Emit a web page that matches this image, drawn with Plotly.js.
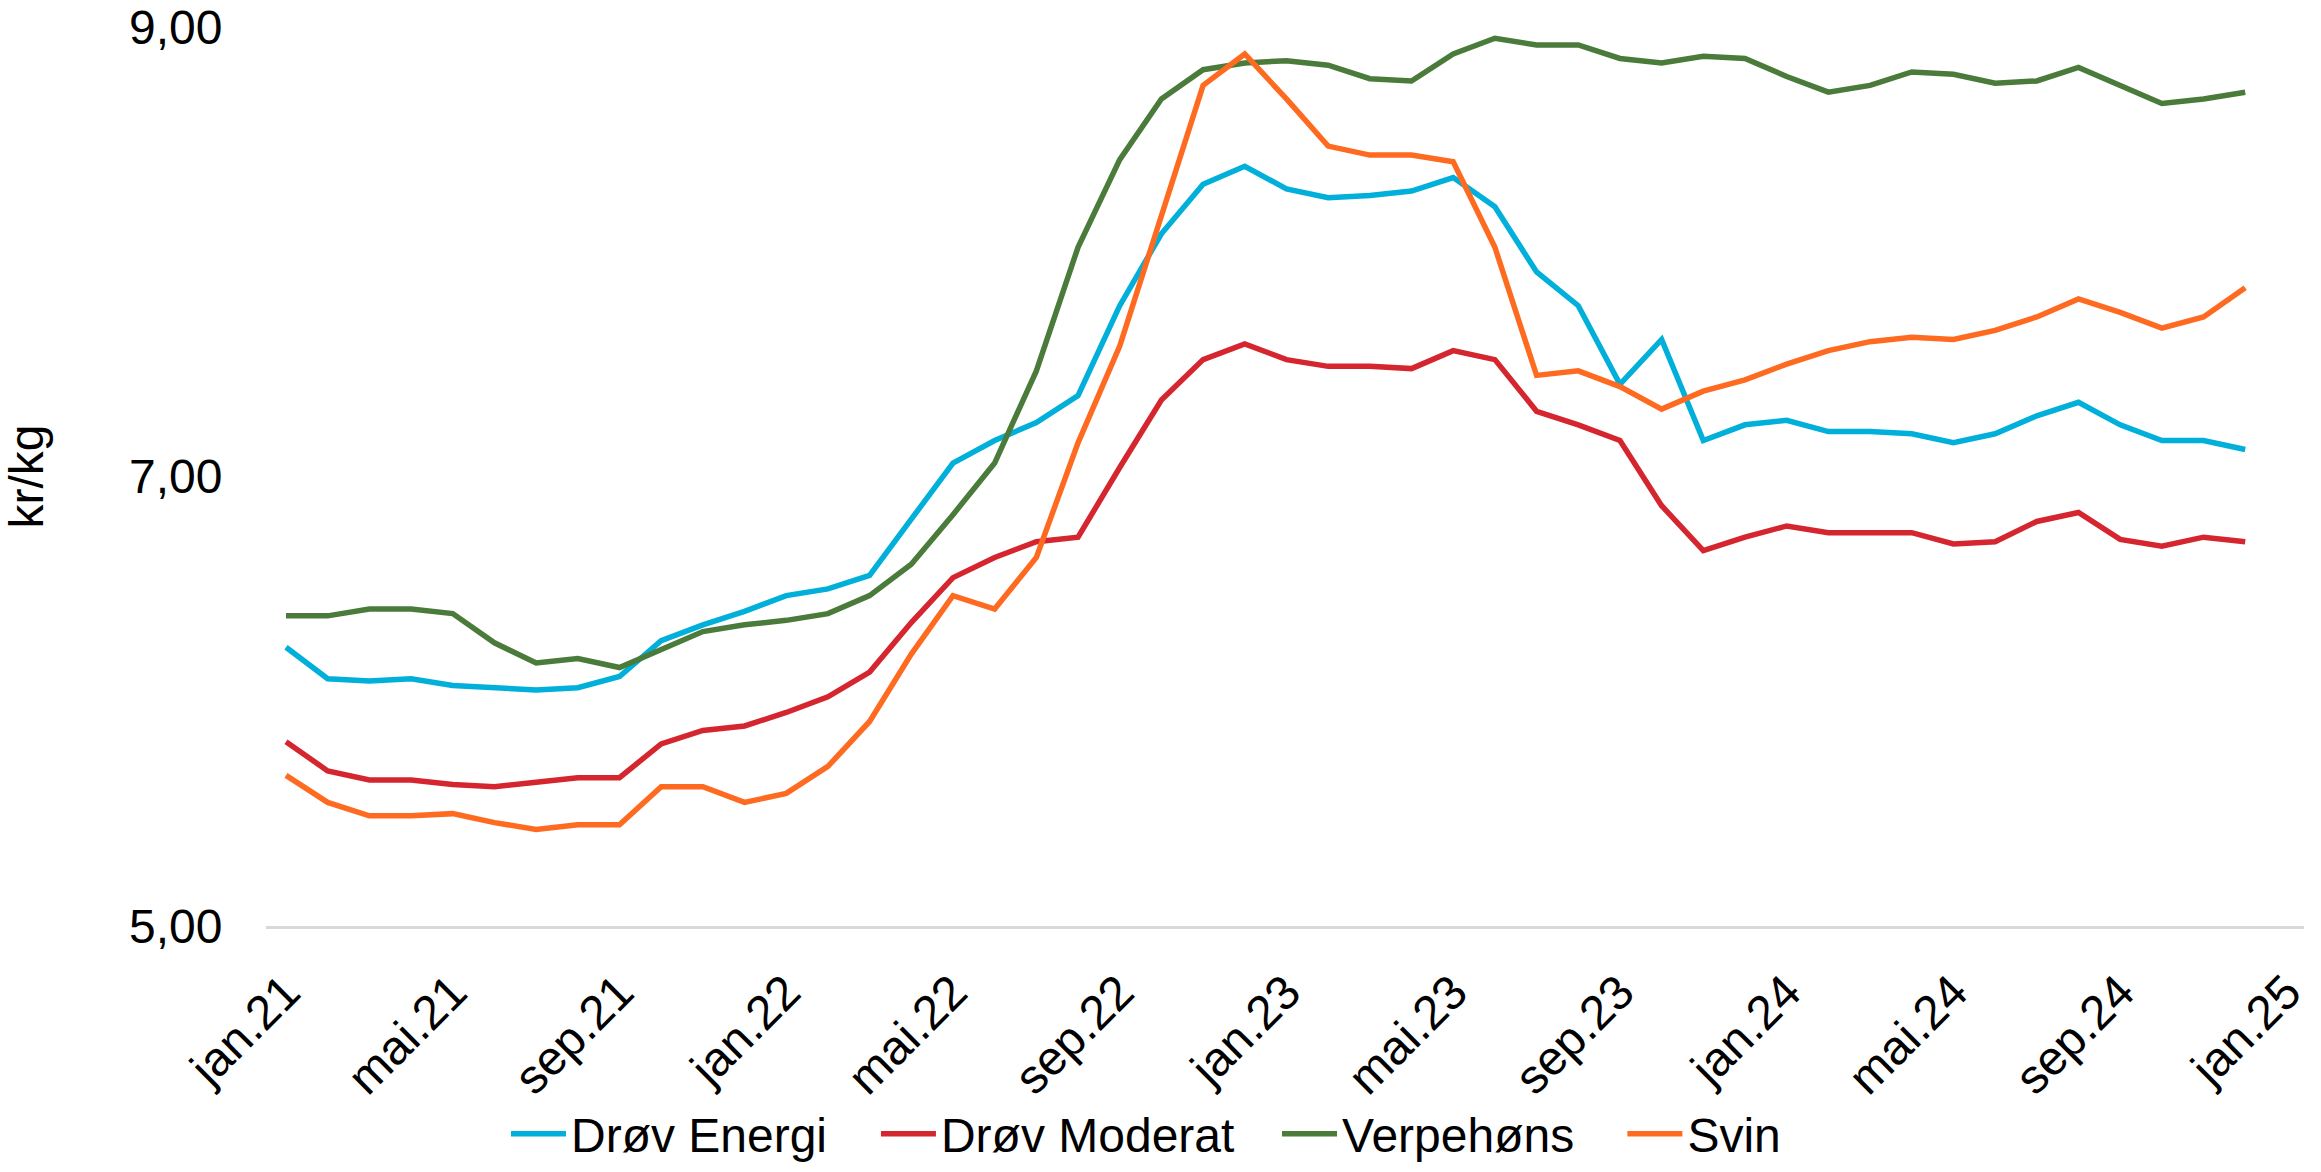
<!DOCTYPE html>
<html>
<head>
<meta charset="utf-8">
<script src="https://cdn.plot.ly/plotly-3.0.1.min.js"></script>
<style>
  html, body { margin: 0; padding: 0; background: #ffffff; }
  #chart { width: 2321px; height: 1172px; }
</style>
</head>
<body>
<div id="chart"></div>
<script>
// Months (monthly data, jan.21 – des.24)
const months = [
  "jan.21","feb.21","mar.21","apr.21","mai.21","jun.21","jul.21","aug.21","sep.21","okt.21","nov.21","des.21",
  "jan.22","feb.22","mar.22","apr.22","mai.22","jun.22","jul.22","aug.22","sep.22","okt.22","nov.22","des.22",
  "jan.23","feb.23","mar.23","apr.23","mai.23","jun.23","jul.23","aug.23","sep.23","okt.23","nov.23","des.23",
  "jan.24","feb.24","mar.24","apr.24","mai.24","jun.24","jul.24","aug.24","sep.24","okt.24","nov.24","des.24"
];

// Axis tick labels (every 4th month, up to jan.25)
const tickLabels = ["jan.21","mai.21","sep.21","jan.22","mai.22","sep.22","jan.23","mai.23","sep.23","jan.24","mai.24","sep.24","jan.25"];
const tickPositions = [0,4,8,12,16,20,24,28,32,36,40,44,48];

// Series (kr/kg)
const drovEnergi = [
  6.24, 6.10, 6.09, 6.10, 6.07, 6.06, 6.05, 6.06, 6.11, 6.27,
  6.34, 6.40, 6.47, 6.50, 6.56, 6.81, 7.06, 7.16, 7.24, 7.36,
  7.76, 8.08, 8.30, 8.38, 8.28, 8.24, 8.25, 8.27, 8.33, 8.20,
  7.91, 7.76, 7.41, 7.61, 7.16, 7.23, 7.25, 7.20, 7.20, 7.19,
  7.15, 7.19, 7.27, 7.33, 7.23, 7.16, 7.16, 7.12
];
const drovModerat = [
  5.82, 5.69, 5.65, 5.65, 5.63, 5.62, 5.64, 5.66, 5.66, 5.81,
  5.87, 5.89, 5.95, 6.02, 6.13, 6.35, 6.55, 6.64, 6.71, 6.73,
  7.04, 7.34, 7.52, 7.59, 7.52, 7.49, 7.49, 7.48, 7.56, 7.52,
  7.29, 7.23, 7.16, 6.87, 6.67, 6.73, 6.78, 6.75, 6.75, 6.75,
  6.70, 6.71, 6.80, 6.84, 6.72, 6.69, 6.73, 6.71
];
const verpehons = [
  6.38, 6.38, 6.41, 6.41, 6.39, 6.26, 6.17, 6.19, 6.15, 6.23,
  6.31, 6.34, 6.36, 6.39, 6.47, 6.61, 6.83, 7.06, 7.47, 8.02,
  8.41, 8.68, 8.81, 8.84, 8.85, 8.83, 8.77, 8.76, 8.88, 8.95,
  8.92, 8.92, 8.86, 8.84, 8.87, 8.86, 8.78, 8.71, 8.74, 8.80,
  8.79, 8.75, 8.76, 8.82, 8.74, 8.66, 8.68, 8.71
];
const svin = [
  5.67, 5.55, 5.49, 5.49, 5.50, 5.46, 5.43, 5.45, 5.45, 5.62,
  5.62, 5.55, 5.59, 5.71, 5.91, 6.21, 6.47, 6.41, 6.64, 7.15,
  7.58, 8.16, 8.74, 8.88, 8.68, 8.47, 8.43, 8.43, 8.40, 8.02,
  7.45, 7.47, 7.40, 7.30, 7.38, 7.43, 7.50, 7.56, 7.60, 7.62,
  7.61, 7.65, 7.71, 7.79, 7.73, 7.66, 7.71, 7.84
];

const seriesNames = ["Drøv Energi", "Drøv Moderat", "Verpehøns", "Svin"];
const seriesColors = ["#00B0DA", "#D5262F", "#4A7B3A", "#FF6A21"];
const seriesData = [drovEnergi, drovModerat, verpehons, svin];
const legendIds = ["legend", "legend2", "legend3", "legend4"];
const legendX = [0.2180, 0.3774, 0.5502, 0.6990];

const xIdx = months.map((_, i) => i);

const traces = seriesData.map((vals, k) => ({
  type: "scatter",
  mode: "lines",
  name: seriesNames[k],
  legend: legendIds[k],
  x: xIdx,
  y: vals,
  text: months,
  line: { color: seriesColors[k], width: 5.5, shape: "linear" },
  hovertemplate: "%{text}: %{y:.2f}<extra>" + seriesNames[k] + "</extra>"
}));

const fontFam = "'Liberation Sans', Arial, sans-serif";
const FS = 48;

const layout = {
  width: 2321,
  height: 1172,
  paper_bgcolor: "#ffffff",
  plot_bgcolor: "#ffffff",
  separators: ", ",
  font: { family: fontFam, size: FS, color: "#000000" },
  margin: { l: 266, r: 17, t: 27, b: 246, pad: 0, autoexpand: false },
  showlegend: true,
  xaxis: {
    type: "linear",
    range: [-0.48, 48.41],
    tickmode: "array",
    tickvals: tickPositions,
    ticktext: tickLabels,
    tickangle: -45,
    ticks: "outside",
    ticklen: 16,
    tickcolor: "rgba(0,0,0,0)",
    showgrid: false,
    zeroline: false,
    showline: true,
    linecolor: "#D9D9D9",
    linewidth: 2.5,
    automargin: false,
    tickfont: { family: fontFam, size: FS, color: "#000000" },
    fixedrange: true
  },
  yaxis: {
    range: [5, 9],
    tickmode: "array",
    tickvals: [5, 7, 9],
    tickformat: ".2f",
    ticks: "outside",
    ticklen: 33,
    tickcolor: "rgba(0,0,0,0)",
    showgrid: false,
    zeroline: false,
    showline: false,
    tickfont: { family: fontFam, size: FS, color: "#000000" },
    title: { text: "kr/kg", font: { family: fontFam, size: FS, color: "#000000" }, standoff: 96 },
    automargin: false,
    fixedrange: true
  }
};

legendIds.forEach((id, k) => {
  layout[id] = {
    orientation: "h",
    xref: "container",
    yref: "container",
    x: legendX[k],
    xanchor: "left",
    y: 0,
    yanchor: "bottom",
    itemwidth: 55,
    borderwidth: 0,
    bgcolor: "rgba(0,0,0,0)",
    font: { family: fontFam, size: FS, color: "#000000" }
  };
});

Plotly.newPlot("chart", traces, layout, { displayModeBar: false, staticPlot: true });
</script>
</body>
</html>
